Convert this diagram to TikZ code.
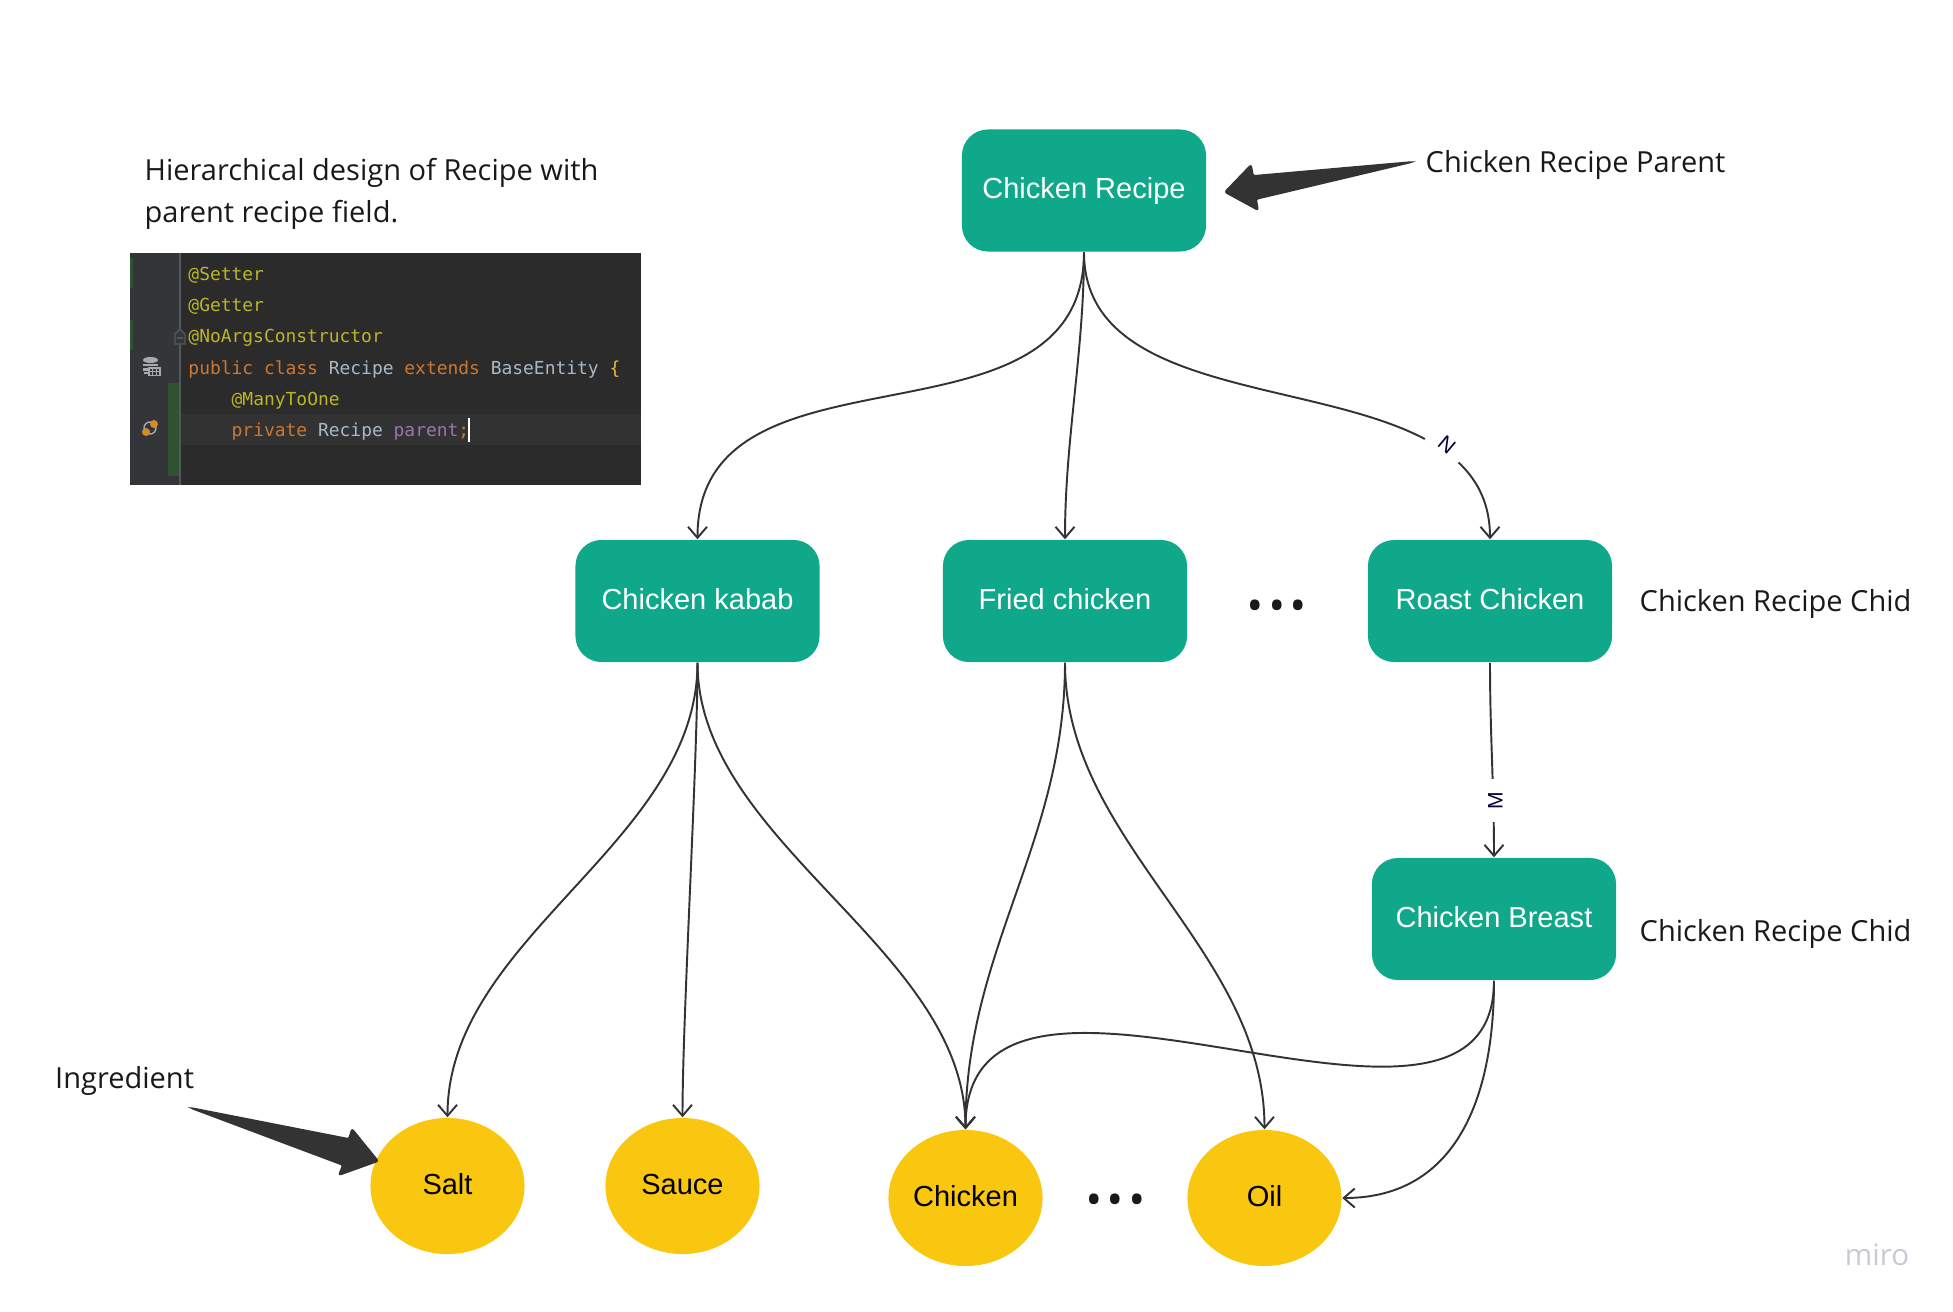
\documentclass[tikz,border=0pt]{standalone}
\usepackage{fontspec}
\setmainfont{Open Sans}
\newfontfamily\boxfont{Liberation Sans}
\newfontfamily\codefont{DejaVu Sans Mono}
\usetikzlibrary{arrows.meta,shapes.geometric}
\definecolor{recipeteal}{HTML}{0FA88A}
\definecolor{ingyellow}{HTML}{FAC710}
\definecolor{linkgrey}{HTML}{333333}
\definecolor{notenavy}{HTML}{050038}
\definecolor{brandgrey}{HTML}{C9C9D6}
\definecolor{codebg}{HTML}{2B2B2B}
\definecolor{gutterbg}{HTML}{333538}
\definecolor{gutterline}{HTML}{55585A}
\definecolor{iconbg}{HTML}{A5A9B0}
\definecolor{rowbg}{HTML}{323232}
\definecolor{gitgreen}{HTML}{2F5233}
\definecolor{annot}{HTML}{BBB529}
\definecolor{keyw}{HTML}{CC7832}
\definecolor{plain}{HTML}{A9B7C6}
\definecolor{field}{HTML}{9876AA}
\definecolor{brace}{HTML}{E8BA36}
\tikzset{
  recipebox/.style={draw=none,fill=recipeteal,rounded corners=0.26cm,minimum width=2.44cm,minimum height=1.22cm,inner sep=0pt,text=white,text height=6pt,text depth=1.4pt,font=\boxfont\fontsize{8.25}{10}\selectfont},
  ingredient/.style={ellipse,draw=none,fill=ingyellow,minimum width=1.54cm,minimum height=1.36cm,inner sep=0pt,text=black,text height=6pt,text depth=1.4pt,font=\boxfont\fontsize{8.25}{10}\selectfont},
  note/.style={anchor=west,inner sep=0pt,text=black!90,font=\fontsize{8.25}{10}\selectfont},
  dots/.style={inner sep=0pt,text=black!90,font=\fontsize{23}{23}\selectfont},
  edgelabel/.style={fill=white,inner xsep=3.6pt,inner ysep=1pt,text=notenavy,font=\boxfont\fontsize{6}{7}\selectfont},
  codeline/.style={anchor=west,inner sep=0pt,font=\codefont\fontsize{5.1}{6}\selectfont},
  link/.style={linkgrey,line width=0.55pt,-{Straight Barb[length=1.1mm,width=1.9mm]}},
  pointer/.style={fill=linkgrey,draw=linkgrey,line width=0.5pt,rounded corners=0.6pt}
}
\begin{document}
\begin{tikzpicture}[x=0.01cm,y=-0.01cm]
      \useasboundingbox (0,0) rectangle (1953,1311);
      % code screenshot
      \fill[codebg] (130,253) rectangle (640.5,485);
      \fill[gutterbg] (130,253) rectangle (180,485);
      \fill[rowbg] (181,414) rectangle (640.5,445);
      \fill[gitgreen] (168,383) rectangle (179,476);
      \fill[gitgreen] (130,258) rectangle (133,288);
      \fill[gitgreen] (130,320) rectangle (133,350);
      \draw[gutterline,line width=0.4pt] (180,253) -- (180,485);
      \draw[gutterline,line width=0.4pt,fill=gutterbg] (175,344) -- (175,334) -- (180,329) -- (185,334) -- (185,344) -- cycle;
      \draw[gutterline,line width=0.4pt] (177,338) -- (183,338);
      \fill[iconbg] (150.5,360) ellipse (7.5 and 3);
      \fill[iconbg] (143,364) rectangle (158,366);
      \fill[iconbg] (143,368) rectangle (148,371);
      \fill[iconbg] (144,372) rectangle (148,374);
      \draw[iconbg,line width=0.3pt] (149,368) rectangle (160,375.5);
      \draw[iconbg,line width=0.3pt] (149,371.5) -- (160,371.5) (152.7,368) -- (152.7,375.5) (156.4,368) -- (156.4,375.5);
      \draw[iconbg,line width=0.4pt] (150,428) circle (6);
      \fill[keyw!85!yellow] (146,432) circle (4);
      \fill[keyw!85!yellow] (154,424) circle (4);
      \draw[white,line width=0.6pt] (469,418) -- (469,442);
      \draw
        (187.75,275.5) node[codeline,text=annot] (setter){@Setter}
        (187.75,306.5) node[codeline,text=annot] (getter){@Getter}
        (187.75,338) node[codeline,text=annot] (noargs){@NoArgsConstructor}
        (187.75,369) node[codeline] (classline){\textcolor{keyw}{public class} \textcolor{plain}{Recipe} \textcolor{keyw}{extends} \textcolor{plain}{BaseEntity} \textcolor{brace}{\{}}
        (231,400.5) node[codeline,text=annot] (manytoone){@ManyToOne}
        (231,431.5) node[codeline] (fieldline){\textcolor{keyw}{private} \textcolor{plain}{Recipe} \textcolor{field}{parent}\textcolor{keyw}{;}};
      % recipes and ingredients
      \draw
        (1084,190.5) node[recipebox] (recipe){Chicken Recipe}
        (697.5,601) node[recipebox] (kabab){Chicken kabab}
        (1065,601) node[recipebox] (fried){Fried chicken}
        (1490,601) node[recipebox] (roast){Roast Chicken}
        (1494,919) node[recipebox] (breast){Chicken Breast}
        (447.5,1186) node[ingredient] (salt){Salt}
        (682.5,1186) node[ingredient] (sauce){Sauce}
        (965.5,1198) node[ingredient] (chicken){Chicken}
        (1264.5,1198) node[ingredient] (oil){Oil};
      \draw
        (1277,605.5) node[dots] (morerecipes){...}
        (1115.5,1199.5) node[dots] (moreingredients){...};
      \draw
        (144,172.5) node[note] (titleone){Hierarchical design of Recipe with}
        (144,214.5) node[note] (titletwo){parent recipe field.}
        (1425,164.5) node[note] (parentnote){Chicken Recipe Parent}
        (1639,604) node[note] (chidnote){Chicken Recipe Chid}
        (1639,934) node[note] (breastnote){Chicken Recipe Chid}
        (54.5,1081) node[note] (ingnote){Ingredient}
        (1877,1255) node[inner sep=0pt,text=brandgrey,font=\fontsize{8.4}{9}\selectfont] (brand){miro};
      \begin{scope}[link]
        \draw (recipe.south) to[out=-90,in=90,distance=2.1cm] (kabab.north);
        \draw (recipe.south) to[out=-90,in=90,distance=1cm] (fried.north);
        \draw (recipe.south) to[out=-90,in=90,distance=1.9cm] node[pos=.8,shift={(-1,-10)},edgelabel,rotate=-40] (nlabel){N} (roast.north);
        \draw (roast.south) to[out=-90,in=90,distance=0.7cm] node[pos=.735,shift={(2,-4)},edgelabel,rotate=90] (mlabel){M} (breast.north);
        \draw (kabab.south) to[out=-90,in=90,distance=1.8cm] (salt.north);
        \draw (kabab.south) to[out=-90,in=90,distance=1cm] (sauce.north);
        \draw (kabab.south) to[out=-90,in=90,distance=1.8cm] (chicken.north);
        \draw (fried.south) to[out=-90,in=90,distance=1.8cm] (chicken.north);
        \draw (fried.south) to[out=-90,in=90,distance=1.8cm] (oil.north);
        \draw (breast.south) to[out=-90,in=90,out distance=2.25cm,in distance=2.4cm] (chicken.north);
        \draw (breast.south) to[out=-90,in=0,distance=1.15cm] (oil.east);
      \end{scope}
      % block pointers
      \draw[pointer] (1412,162) -- (1253,176) -- (1251,165) -- (1225,192) -- (1258,210) -- (1256,199) -- cycle;
      \draw[pointer] (191,1108) -- (349,1139) -- (352,1129) -- (378,1161) -- (339,1175) -- (343,1165) -- cycle;
    \end{tikzpicture}
\end{document}
